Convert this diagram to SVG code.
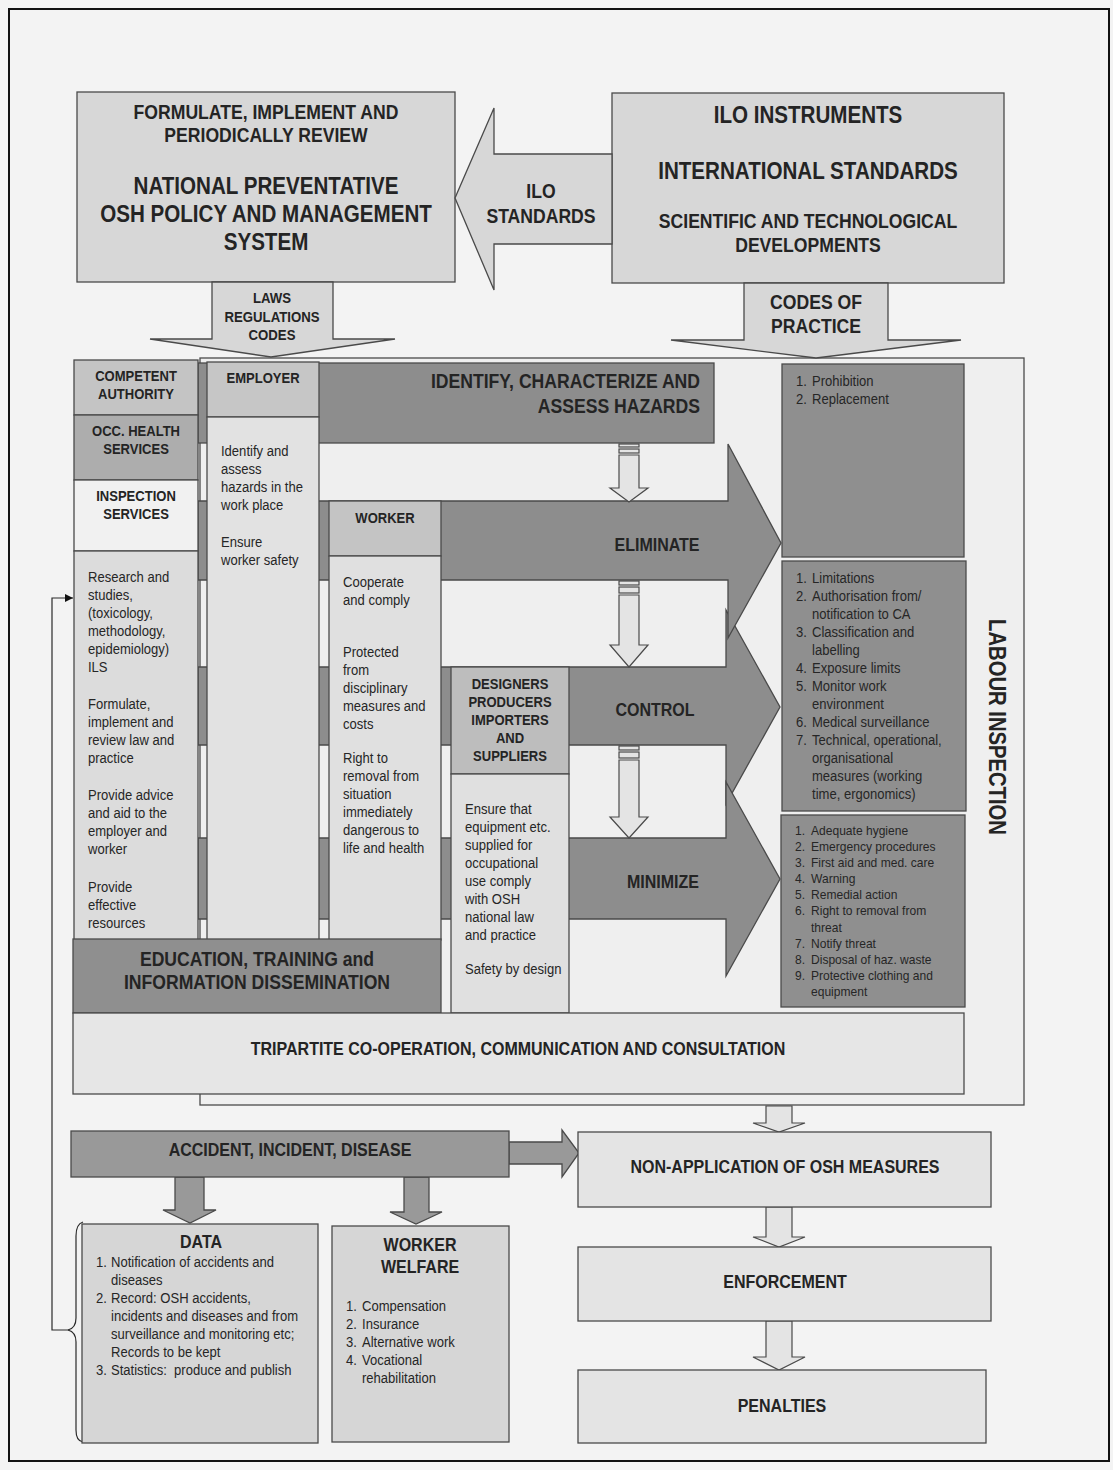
<svg xmlns="http://www.w3.org/2000/svg" width="1113" height="1470" viewBox="0 0 1113 1470">
<defs>
<style>
.hb{font-family:"Liberation Sans",Arial,sans-serif;font-weight:bold;fill:#242424;text-anchor:middle}
.he{font-family:"Liberation Sans",Arial,sans-serif;font-weight:bold;fill:#242424;text-anchor:end}
.b{font-family:"Liberation Sans",Arial,sans-serif;fill:#262626;font-size:14.5px}
.s{font-family:"Liberation Sans",Arial,sans-serif;fill:#262626;font-size:13.4px}
.bx{stroke:#4a4a4a;stroke-width:1.3}
.lt{fill:#d7d7d7}
.dk{fill:#8d8d8d}
.la{fill:#e4e4e4;stroke:#4a4a4a;stroke-width:1.2}
.ln{fill:none;stroke:#2a2a2a;stroke-width:1.2}
</style>
<marker id="ah" viewBox="0 0 10 10" refX="10" refY="5" markerWidth="8" markerHeight="8" markerUnits="userSpaceOnUse" orient="auto">
<path d="M0,0 L10,5 L0,10 z" fill="#111"/>
</marker>
</defs>
<rect x="0" y="0" width="1113" height="1470" fill="#f3f3f3"/>
<rect x="9" y="9" width="1100" height="1452" fill="none" stroke="#111" stroke-width="2"/>

<g id="policy">
<rect class="bx lt" x="77" y="92" width="378" height="190"/>
<text class="hb" font-size="20" transform="translate(266 119) scale(0.88 1)">FORMULATE, IMPLEMENT AND</text>
<text class="hb" font-size="20" transform="translate(266 142) scale(0.88 1)">PERIODICALLY REVIEW</text>
<text class="hb" font-size="23.4" transform="translate(266 194) scale(0.88 1)">NATIONAL PREVENTATIVE</text>
<text class="hb" font-size="23.4" transform="translate(266 222) scale(0.88 1)">OSH POLICY AND MANAGEMENT</text>
<text class="hb" font-size="23.4" transform="translate(266 250) scale(0.88 1)">SYSTEM</text>
</g>

<g id="ilo-instruments">
<rect class="bx lt" x="612" y="93" width="392" height="190"/>
<text class="hb" font-size="23.4" transform="translate(808 123) scale(0.88 1)">ILO INSTRUMENTS</text>
<text class="hb" font-size="23.4" transform="translate(808 179) scale(0.88 1)">INTERNATIONAL STANDARDS</text>
<text class="hb" font-size="20" transform="translate(808 228) scale(0.88 1)">SCIENTIFIC AND TECHNOLOGICAL</text>
<text class="hb" font-size="20" transform="translate(808 252) scale(0.88 1)">DEVELOPMENTS</text>
</g>

<g id="labour-inspection">
<rect x="200" y="358" width="824" height="747" fill="#efefef" stroke="#4a4a4a" stroke-width="1.3"/>
<text class="hb" font-size="23" transform="translate(989 727) rotate(90) scale(0.88 1)">LABOUR INSPECTION</text>
</g>

<g id="connectors">
<polygon class="bx lt" points="612,154 494,154 494,108 455,198 494,290 494,244 612,244"/>
<text class="hb" font-size="20" transform="translate(541 198) scale(0.88 1)">ILO</text>
<text class="hb" font-size="20" transform="translate(541 223) scale(0.88 1)">STANDARDS</text>

<polygon class="bx lt" points="212,282 333,282 333,339 395,339 271,357 150,339 212,339"/>
<text class="hb" font-size="15" transform="translate(272 303) scale(0.88 1)">LAWS</text>
<text class="hb" font-size="15" transform="translate(272 322) scale(0.88 1)">REGULATIONS</text>
<text class="hb" font-size="15" transform="translate(272 340) scale(0.88 1)">CODES</text>

<polygon class="bx lt" points="744,283 888,283 888,340 961,340 816,358 671,340 744,340"/>
<text class="hb" font-size="20" transform="translate(816 309) scale(0.88 1)">CODES OF</text>
<text class="hb" font-size="20" transform="translate(816 333) scale(0.88 1)">PRACTICE</text>

<polygon class="bx dk" points="198,667 726,667 726,610 780,707 726,804 726,745 198,745"/>
<polygon class="bx dk" points="198,501 728,501 728,444 781,543 728,638 728,580 198,580"/>
<polygon class="bx dk" points="198,838 726,838 726,782 780,879 726,976 726,919 198,919"/>
<rect class="bx dk" x="198" y="363" width="516" height="80"/>

<rect class="la" x="619" y="444" width="20" height="3"/>
<rect class="la" x="619" y="449" width="20" height="4"/>
<polygon class="la" points="619,455 639,455 639,488 648,488 629,502 610,488 619,488"/>
<rect class="la" x="619" y="581" width="20" height="4"/>
<rect class="la" x="619" y="587" width="20" height="6"/>
<polygon class="la" points="619,595 639,595 639,645 648,645 629,667 610,645 619,645"/>
<rect class="la" x="619" y="746" width="20" height="4"/>
<rect class="la" x="619" y="752" width="20" height="6"/>
<polygon class="la" points="619,760 639,760 639,817 648,817 629,838 610,817 619,817"/>

<polygon class="bx" fill="#999" points="509,1142 562,1142 562,1130 579,1153 562,1177 562,1164 509,1164"/>
<polygon class="bx" fill="#999" points="175,1177 204,1177 204,1210 216,1210 190,1223 163,1210 175,1210"/>
<polygon class="bx" fill="#999" points="404,1177 429,1177 429,1212 442,1212 416,1224 390,1212 404,1212"/>

<polygon class="la" points="766,1106 792,1106 792,1123 805,1123 779,1132 753,1123 766,1123"/>
<polygon class="la" points="766,1207 792,1207 792,1237 805,1237 779,1247 753,1237 766,1237"/>
<polygon class="la" points="766,1321 792,1321 792,1357 805,1357 779,1370 753,1357 766,1357"/>

<path class="ln" d="M69,1330 L52,1330 L52,598 L73,598" marker-end="url(#ah)"/>
<path class="ln" d="M83,1222 Q76,1224 76,1236 L76,1318 Q76,1328 68,1330 Q76,1332 76,1342 L76,1430 Q76,1441 83,1442"/>
</g>

<g id="identify">
<text class="he" font-size="20" transform="translate(700 388) scale(0.88 1)">IDENTIFY, CHARACTERIZE AND</text>
<text class="he" font-size="20" transform="translate(700 413) scale(0.88 1)">ASSESS HAZARDS</text>
</g>
<g id="eliminate"><text class="hb" font-size="18.2" transform="translate(657 551) scale(0.88 1)">ELIMINATE</text></g>
<g id="control"><text class="hb" font-size="18.2" transform="translate(655 716) scale(0.88 1)">CONTROL</text></g>
<g id="minimize"><text class="hb" font-size="18.2" transform="translate(663 888) scale(0.88 1)">MINIMIZE</text></g>

<g id="competent-authority">
<rect class="bx" fill="#c4c4c4" x="74" y="360" width="124" height="55"/>
<text class="hb" font-size="14.8" transform="translate(136 381) scale(0.88 1)">COMPETENT</text>
<text class="hb" font-size="14.8" transform="translate(136 399) scale(0.88 1)">AUTHORITY</text>
</g>
<g id="occ-health">
<rect class="bx" fill="#adadad" x="74" y="415" width="124" height="65"/>
<text class="hb" font-size="14.8" transform="translate(136 436) scale(0.88 1)">OCC. HEALTH</text>
<text class="hb" font-size="14.8" transform="translate(136 454) scale(0.88 1)">SERVICES</text>
</g>
<g id="inspection">
<rect class="bx" fill="#f1f1f1" x="74" y="480" width="124" height="71"/>
<text class="hb" font-size="14.8" transform="translate(136 501) scale(0.88 1)">INSPECTION</text>
<text class="hb" font-size="14.8" transform="translate(136 519) scale(0.88 1)">SERVICES</text>
</g>
<g id="authority-tasks">
<rect class="bx" fill="#dcdcdc" x="74" y="551" width="124" height="389"/>
<text class="b" transform="translate(88 582) scale(0.9 1)"><tspan x="0">Research and</tspan><tspan x="0" dy="18">studies,</tspan><tspan x="0" dy="18">(toxicology,</tspan><tspan x="0" dy="18">methodology,</tspan><tspan x="0" dy="18">epidemiology)</tspan><tspan x="0" dy="18">ILS</tspan><tspan x="0" dy="37">Formulate,</tspan><tspan x="0" dy="18">implement and</tspan><tspan x="0" dy="18">review law and</tspan><tspan x="0" dy="18">practice</tspan><tspan x="0" dy="37">Provide advice</tspan><tspan x="0" dy="18">and aid to the</tspan><tspan x="0" dy="18">employer and</tspan><tspan x="0" dy="18">worker</tspan><tspan x="0" dy="38">Provide</tspan><tspan x="0" dy="18">effective</tspan><tspan x="0" dy="18">resources</tspan></text>
</g>

<g id="employer">
<rect class="bx" fill="#c6c6c6" x="207" y="362" width="112" height="55"/>
<rect class="bx" fill="#e2e2e2" x="207" y="417" width="112" height="523"/>
<text class="hb" font-size="14.8" transform="translate(263 383) scale(0.88 1)">EMPLOYER</text>
<text class="b" transform="translate(221 456) scale(0.9 1)"><tspan x="0">Identify and</tspan><tspan x="0" dy="18">assess</tspan><tspan x="0" dy="18">hazards in the</tspan><tspan x="0" dy="18">work place</tspan><tspan x="0" dy="37">Ensure</tspan><tspan x="0" dy="18">worker safety</tspan></text>
</g>

<g id="worker">
<rect class="bx" fill="#c4c4c4" x="329" y="501" width="112" height="55"/>
<rect class="bx" fill="#e0e0e0" x="329" y="556" width="112" height="384"/>
<text class="hb" font-size="14.8" transform="translate(385 523) scale(0.88 1)">WORKER</text>
<text class="b" transform="translate(343 587) scale(0.9 1)"><tspan x="0">Cooperate</tspan><tspan x="0" dy="18">and comply</tspan><tspan x="0" dy="52">Protected</tspan><tspan x="0" dy="18">from</tspan><tspan x="0" dy="18">disciplinary</tspan><tspan x="0" dy="18">measures and</tspan><tspan x="0" dy="18">costs</tspan><tspan x="0" dy="34">Right to</tspan><tspan x="0" dy="18">removal from</tspan><tspan x="0" dy="18">situation</tspan><tspan x="0" dy="18">immediately</tspan><tspan x="0" dy="18">dangerous to</tspan><tspan x="0" dy="18">life and health</tspan></text>
</g>

<g id="designers">
<rect class="bx" fill="#bdbdbd" x="451" y="667" width="118" height="107"/>
<rect class="bx" fill="#e0e0e0" x="451" y="774" width="118" height="239"/>
<text class="hb" font-size="14.8" transform="translate(510 689) scale(0.88 1)"><tspan x="0">DESIGNERS</tspan><tspan x="0" dy="18">PRODUCERS</tspan><tspan x="0" dy="18">IMPORTERS</tspan><tspan x="0" dy="18">AND</tspan><tspan x="0" dy="18">SUPPLIERS</tspan></text>
<text class="b" transform="translate(465 814) scale(0.9 1)"><tspan x="0">Ensure that</tspan><tspan x="0" dy="18">equipment etc.</tspan><tspan x="0" dy="18">supplied for</tspan><tspan x="0" dy="18">occupational</tspan><tspan x="0" dy="18">use comply</tspan><tspan x="0" dy="18">with OSH</tspan><tspan x="0" dy="18">national law</tspan><tspan x="0" dy="18">and practice</tspan></text>
<text class="b" font-size="13" transform="translate(465 974) scale(0.9 1)">Safety by design</text>
</g>

<g id="education">
<rect class="bx" fill="#8f8f8f" x="73" y="939" width="368" height="74"/>
<text class="hb" font-size="20" transform="translate(257 966) scale(0.88 1)">EDUCATION, TRAINING and</text>
<text class="hb" font-size="20" transform="translate(257 989) scale(0.88 1)">INFORMATION DISSEMINATION</text>
</g>

<g id="tripartite">
<rect class="bx" fill="#e6e6e6" x="73" y="1013" width="891" height="81"/>
<text class="hb" font-size="18.2" transform="translate(518 1055) scale(0.88 1)">TRIPARTITE CO-OPERATION, COMMUNICATION AND CONSULTATION</text>
</g>

<g id="eliminate-measures">
<rect class="bx" fill="#8f8f8f" x="782" y="364" width="182" height="193"/>
<text class="b" transform="translate(796 386) scale(0.9 1)"><tspan x="0">1.</tspan><tspan x="17.8">Prohibition</tspan><tspan x="0" dy="18">2.</tspan><tspan x="17.8">Replacement</tspan></text>
</g>

<g id="control-measures">
<rect class="bx" fill="#8f8f8f" x="782" y="561" width="184" height="250"/>
<text class="b" transform="translate(796 583) scale(0.9 1)"><tspan x="0">1.</tspan><tspan x="17.8">Limitations</tspan><tspan x="0" dy="18">2.</tspan><tspan x="17.8">Authorisation from/</tspan><tspan x="17.8" dy="18">notification to CA</tspan><tspan x="0" dy="18">3.</tspan><tspan x="17.8">Classification and</tspan><tspan x="17.8" dy="18">labelling</tspan><tspan x="0" dy="18">4.</tspan><tspan x="17.8">Exposure limits</tspan><tspan x="0" dy="18">5.</tspan><tspan x="17.8">Monitor work</tspan><tspan x="17.8" dy="18">environment</tspan><tspan x="0" dy="18">6.</tspan><tspan x="17.8">Medical surveillance</tspan><tspan x="0" dy="18">7.</tspan><tspan x="17.8">Technical, operational,</tspan><tspan x="17.8" dy="18">organisational</tspan><tspan x="17.8" dy="18">measures (working</tspan><tspan x="17.8" dy="18">time, ergonomics)</tspan></text>
</g>

<g id="minimize-measures">
<rect class="bx" fill="#8f8f8f" x="781" y="815" width="184" height="192"/>
<text class="s" transform="translate(795 835) scale(0.9 1)"><tspan x="0">1.</tspan><tspan x="17.8">Adequate hygiene</tspan><tspan x="0" dy="16.1">2.</tspan><tspan x="17.8">Emergency procedures</tspan><tspan x="0" dy="16.1">3.</tspan><tspan x="17.8">First aid and med. care</tspan><tspan x="0" dy="16.1">4.</tspan><tspan x="17.8">Warning</tspan><tspan x="0" dy="16.1">5.</tspan><tspan x="17.8">Remedial action</tspan><tspan x="0" dy="16.1">6.</tspan><tspan x="17.8">Right to removal from</tspan><tspan x="17.8" dy="16.1">threat</tspan><tspan x="0" dy="16.1">7.</tspan><tspan x="17.8">Notify threat</tspan><tspan x="0" dy="16.1">8.</tspan><tspan x="17.8">Disposal of haz. waste</tspan><tspan x="0" dy="16.1">9.</tspan><tspan x="17.8">Protective clothing and</tspan><tspan x="17.8" dy="16.1">equipment</tspan></text>
</g>

<g id="accident">
<rect class="bx" fill="#999" x="71" y="1131" width="438" height="46"/>
<text class="hb" font-size="18.2" transform="translate(290 1156) scale(0.88 1)">ACCIDENT, INCIDENT, DISEASE</text>
</g>

<g id="data">
<rect class="bx" fill="#d6d6d6" x="82" y="1224" width="236" height="219"/>
<text class="hb" font-size="18.2" transform="translate(201 1248) scale(0.88 1)">DATA</text>
<text class="b" transform="translate(96 1267) scale(0.9 1)"><tspan x="0">1.</tspan><tspan x="16.7">Notification of accidents and</tspan><tspan x="16.7" dy="18">diseases</tspan><tspan x="0" dy="18">2.</tspan><tspan x="16.7">Record: OSH accidents,</tspan><tspan x="16.7" dy="18">incidents and diseases and from</tspan><tspan x="16.7" dy="18">surveillance and monitoring etc;</tspan><tspan x="16.7" dy="18">Records to be kept</tspan><tspan x="0" dy="18">3.</tspan><tspan x="16.7">Statistics:&#160; produce and publish</tspan></text>
</g>

<g id="worker-welfare">
<rect class="bx" fill="#d6d6d6" x="332" y="1226" width="177" height="216"/>
<text class="hb" font-size="18.2" transform="translate(420 1251) scale(0.88 1)">WORKER</text>
<text class="hb" font-size="18.2" transform="translate(420 1273) scale(0.88 1)">WELFARE</text>
<text class="b" transform="translate(346 1311) scale(0.9 1)"><tspan x="0">1.</tspan><tspan x="17.8">Compensation</tspan><tspan x="0" dy="18">2.</tspan><tspan x="17.8">Insurance</tspan><tspan x="0" dy="18">3.</tspan><tspan x="17.8">Alternative work</tspan><tspan x="0" dy="18">4.</tspan><tspan x="17.8">Vocational</tspan><tspan x="17.8" dy="18">rehabilitation</tspan></text>
</g>

<g id="non-application">
<rect class="bx" fill="#e4e4e4" x="578" y="1132" width="413" height="75"/>
<text class="hb" font-size="18.2" transform="translate(785 1173) scale(0.88 1)">NON-APPLICATION OF OSH MEASURES</text>
</g>
<g id="enforcement">
<rect class="bx" fill="#e4e4e4" x="578" y="1247" width="413" height="74"/>
<text class="hb" font-size="18.2" transform="translate(785 1288) scale(0.88 1)">ENFORCEMENT</text>
</g>
<g id="penalties">
<rect class="bx" fill="#e4e4e4" x="578" y="1370" width="408" height="73"/>
<text class="hb" font-size="18.2" transform="translate(782 1412) scale(0.88 1)">PENALTIES</text>
</g>
</svg>
